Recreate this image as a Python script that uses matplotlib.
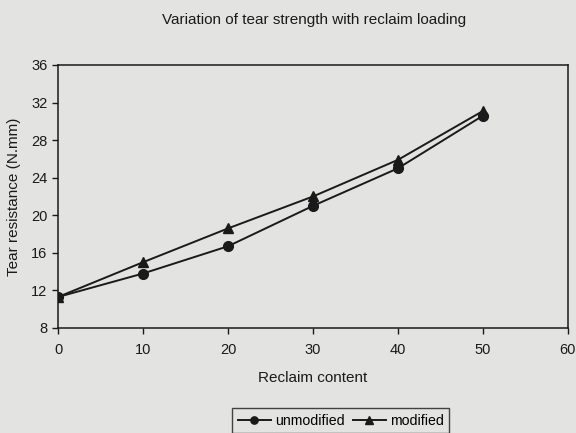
import matplotlib
matplotlib.use("Agg")
import matplotlib.pyplot as plt

reclaim = [0, 10, 20, 30, 40, 50]
unmodified = [11.3, 13.8, 16.7, 21.0, 25.0, 30.6]
modified = [11.3, 15.0, 18.6, 22.0, 25.9, 31.1]
xticks = [0, 10, 20, 30, 40, 50, 60]
yticks = [8, 12, 16, 20, 24, 28, 32, 36]

plt.rcParams['font.family'] = ['Liberation Sans', 'DejaVu Sans']
bg = '#e3e3e1'
fig = plt.figure(figsize=(5.76, 4.33), dpi=100, facecolor=bg)
ax = fig.add_axes([0.1007, 0.2425, 0.8853, 0.6075], facecolor=bg)

ax.plot(reclaim, unmodified, color='#1a1a1a', lw=1.4, marker='o', ms=7, label='unmodified')
ax.plot(reclaim, modified, color='#1a1a1a', lw=1.4, marker='^', ms=7.5, label='modified')

ax.set_xlim(0, 60)
ax.set_ylim(8, 36)
ax.set_xticks(xticks)
ax.set_yticks(yticks)
ax.tick_params(direction='out', length=4, width=1, colors='#1a1a1a', labelsize=10.5)
ax.tick_params(axis='x', pad=7)
for s in ax.spines.values():
    s.set_color('#1a1a1a')
    s.set_linewidth(1.1)

fig.text(0.545, 0.953, 'Variation of tear strength with reclaim loading', ha='center', va='center', fontsize=11, color='#1a1a1a')
ax.set_xlabel('Reclaim content', fontsize=11, color='#1a1a1a', labelpad=10)
ax.set_ylabel('Tear resistance (N.mm)', fontsize=11, color='#1a1a1a', labelpad=7)

leg = fig.legend(loc='upper center', bbox_to_anchor=(0.592, 0.0577), ncol=2, frameon=True,
                 fancybox=False, edgecolor='#1a1a1a', facecolor=bg, fontsize=10.2,
                 handlelength=2.3, columnspacing=0.6, handletextpad=0.3, borderpad=0.4,
                 borderaxespad=0, markerscale=0.75)
leg.get_frame().set_linewidth(1.0)

fig.savefig('out.png', dpi=100, facecolor=bg)
